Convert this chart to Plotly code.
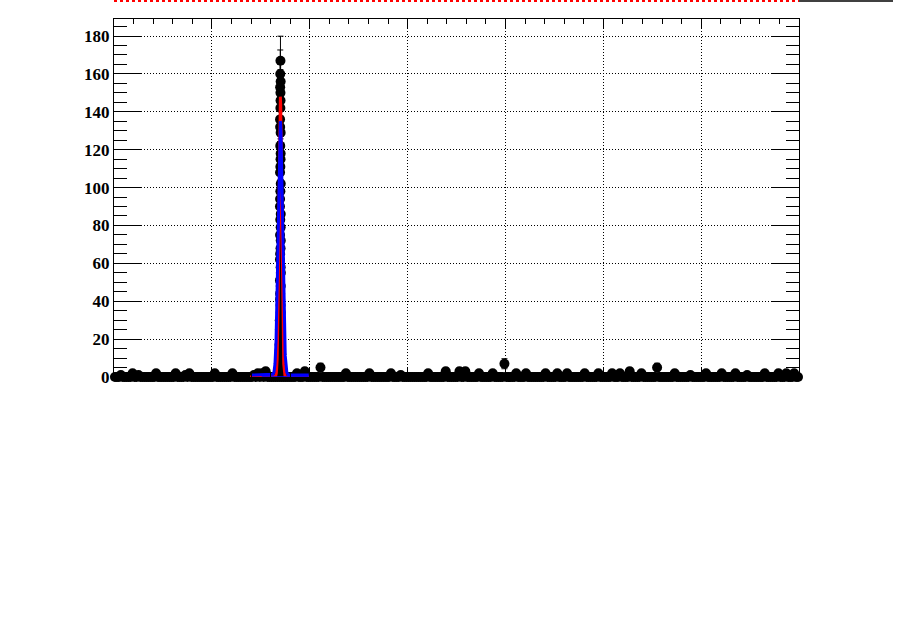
import numpy as np
import plotly.graph_objects as go

# ---------------- data ----------------
# histogram bins (coarse part): centres every 0.02 over [0, 7]
bin_width = 0.02
x_min, x_max = 0.0, 7.0
# non-zero background bins (centre, count)
bg_x = [0.07, 0.19, 0.25, 0.43, 0.63, 0.73, 0.77, 1.03, 1.21, 1.43, 1.47,
        1.51, 1.55, 1.87, 1.95, 2.11, 2.37, 2.61, 2.83, 2.93, 3.21, 3.39,
        3.53, 3.59, 3.73, 3.87, 3.99, 4.11, 4.21, 4.41, 4.53, 4.63, 4.81,
        4.95, 5.09, 5.17, 5.27, 5.39, 5.55, 5.73, 5.89, 6.05, 6.21, 6.35,
        6.47, 6.65, 6.79, 6.87, 6.95]
bg_y = [1, 2, 1, 2, 2, 1, 2, 2, 2, 1, 2,
        2, 3, 2, 3, 5, 2, 2, 2, 1, 2, 3,
        3, 3, 2, 2, 7, 2, 2, 2, 2, 2, 2,
        2, 2, 2, 3, 2, 5, 2, 1, 2, 2, 2,
        1, 2, 2, 2, 2]

# fine bins in the peak region
peak_x = [1.701, 1.699, 1.703, 1.698, 1.702, 1.700, 1.697, 1.703, 1.699,
          1.702, 1.697, 1.704, 1.700, 1.696, 1.703, 1.697, 1.704, 1.698,
          1.703, 1.696, 1.704, 1.697, 1.704, 1.695, 1.706, 1.693, 1.708,
          1.690, 1.711, 1.686, 1.714, 1.682, 1.718, 1.678, 1.722, 1.674,
          1.726, 1.701, 1.698, 1.703, 1.700, 1.697, 1.704, 1.699, 1.702,
          1.696, 1.705, 1.698, 1.702, 1.694, 1.707, 1.692, 1.709]
peak_y = [167, 160, 156, 153, 146, 142, 136, 129, 122,
          115, 108, 102, 98, 90, 79, 75, 72, 65,
          58, 51, 48, 41, 34, 25, 20, 14, 10,
          7, 5, 4, 3, 2, 2, 1, 1, 1,
          1, 150, 132, 118, 111, 94, 86, 83, 68,
          62, 55, 44, 38, 30, 28, 17, 12]

# fit functions (parameters)
red_amp, red_mean, red_sigma = 148.0, 1.700, 0.014
red_range = (1.39, 2.00)
blue_amp, blue_mean, blue_sigma, blue_const = 134.0, 1.700, 0.022, 1.0
blue_range = (1.40, 1.99)
blue_bkg_range = (1.51, 1.99)

# ---------------- build ----------------
centres = np.round(np.arange(x_min + bin_width / 2, x_max, bin_width), 4)
counts = np.zeros_like(centres)
for bx, by in zip(bg_x, bg_y):
    counts[np.argmin(np.abs(centres - bx))] = by

hx = np.concatenate([centres, np.array(peak_x)])
hy = np.concatenate([counts, np.array(peak_y, dtype=float)])
herr = np.sqrt(hy)

fig = go.Figure()

fig.add_trace(go.Scatter(
    x=hx, y=hy, mode="markers",
    marker=dict(color="black", size=10, symbol="circle"),
    error_y=dict(type="data", array=herr, visible=True, color="black",
                 thickness=1, width=3),
    cliponaxis=False, showlegend=False))

xr = np.linspace(red_range[0], red_range[1], 3000)
yr = red_amp * np.exp(-0.5 * ((xr - red_mean) / red_sigma) ** 2)
fig.add_trace(go.Scatter(x=xr, y=yr, mode="lines",
                         line=dict(color="red", width=3), showlegend=False))

xb = np.linspace(blue_range[0], blue_range[1], 3000)
yb = blue_amp * np.exp(-0.5 * ((xb - blue_mean) / blue_sigma) ** 2) + blue_const
fig.add_trace(go.Scatter(x=xb, y=yb, mode="lines",
                         line=dict(color="blue", width=3), showlegend=False))
fig.add_trace(go.Scatter(x=list(blue_bkg_range), y=[0, 0], mode="lines",
                         line=dict(color="blue", width=1.5), showlegend=False,
                         cliponaxis=False))

L, R, T, B = 114, 113, 19, 257
W, H = 912, 634
ph = H - T - B
pw = W - L - R

grid_dash = "1px,2px"

fig.update_layout(
    width=W, height=H,
    margin=dict(l=L, r=R, t=T, b=B, pad=0),
    paper_bgcolor="white", plot_bgcolor="white",
    xaxis=dict(range=[x_min, x_max], dtick=1, showticklabels=False,
               showgrid=True, gridcolor="black", griddash=grid_dash, gridwidth=1,
               zeroline=False, showline=True, linecolor="black", linewidth=1,
               mirror="allticks", ticks="inside", ticklen=9, tickcolor="black",
               minor=dict(dtick=0.2, ticks="inside", ticklen=4.5,
                          tickcolor="black", showgrid=False)),
    yaxis=dict(range=[0, 189], dtick=20, tick0=0,
               showgrid=True, gridcolor="black", griddash=grid_dash, gridwidth=1,
               zeroline=False, showline=True, linecolor="black", linewidth=1,
               mirror="allticks", ticks="inside", ticklen=27, tickcolor="black",
               tickfont=dict(family="Liberation Serif", size=17, color="black",
                             weight="bold"),
               minor=dict(dtick=5, ticks="inside", ticklen=13,
                          tickcolor="black", showgrid=False)),
)

ytop = (ph + T - 1) / ph
fig.add_shape(type="line", xref="paper", yref="paper", x0=0, x1=1,
              y0=ytop, y1=ytop, line=dict(color="red", width=2, dash="dot"))
fig.add_shape(type="line", xref="paper", yref="paper", x0=1,
              x1=(893 - L) / pw, y0=ytop, y1=ytop,
              line=dict(color="black", width=1.5))

fig.write_html("out.html")
